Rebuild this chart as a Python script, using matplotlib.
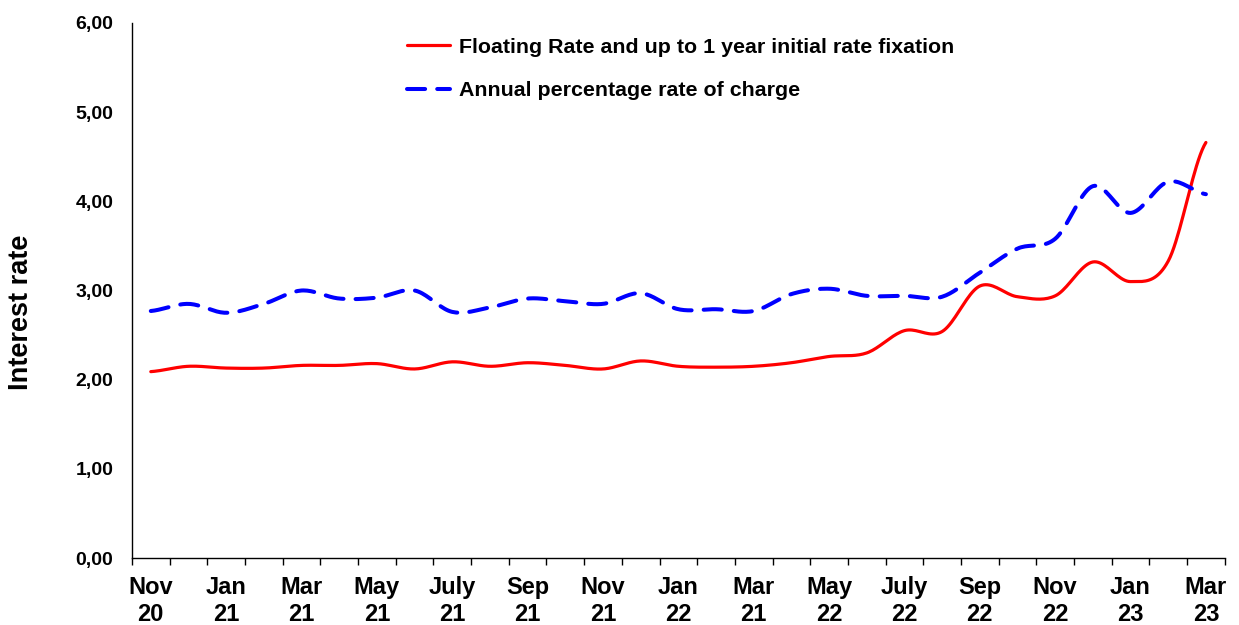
import numpy as np
import matplotlib.pyplot as plt
from matplotlib.ticker import FixedLocator, FuncFormatter

# monthly values, Nov 20 .. Mar 23
months = ['Nov 20', 'Dec 20', 'Jan 21', 'Feb 21', 'Mar 21', 'Apr 21', 'May 21', 'Jun 21',
          'Jul 21', 'Aug 21', 'Sep 21', 'Oct 21', 'Nov 21', 'Dec 21', 'Jan 22', 'Feb 22',
          'Mar 22', 'Apr 22', 'May 22', 'Jun 22', 'Jul 22', 'Aug 22', 'Sep 22', 'Oct 22',
          'Nov 22', 'Dec 22', 'Jan 23', 'Feb 23', 'Mar 23']

floating = [2.09, 2.15, 2.13, 2.13, 2.16, 2.16, 2.18, 2.12, 2.20, 2.15, 2.19, 2.16, 2.12,
            2.21, 2.15, 2.14, 2.15, 2.19, 2.26, 2.30, 2.55, 2.54, 3.05, 2.93, 2.94, 3.32,
            3.10, 3.33, 4.66]
aprc = [2.77, 2.85, 2.75, 2.85, 3.00, 2.91, 2.92, 3.00, 2.76, 2.81, 2.91, 2.88, 2.85,
        2.97, 2.79, 2.79, 2.77, 2.96, 3.02, 2.94, 2.94, 2.93, 3.20, 3.47, 3.58, 4.17,
        3.87, 4.22, 4.08]

# labels every second month (the "Mar 21" under Mar 22 is as in the source chart)
tick_labels = ['Nov\n20', 'Jan\n21', 'Mar\n21', 'May\n21', 'July\n21', 'Sep\n21', 'Nov\n21',
               'Jan\n22', 'Mar\n21', 'May\n22', 'July\n22', 'Sep\n22', 'Nov\n22', 'Jan\n23',
               'Mar\n23']

legend_labels = ['Floating Rate and up to 1 year initial rate fixation',
                 'Annual percentage rate of charge']


def smooth(y, steps=20):
    # Excel style smoothed line (Catmull-Rom through the data points)
    y = np.asarray(y, dtype=float)
    x = np.arange(len(y), dtype=float)
    xp = np.concatenate([[2 * x[0] - x[1]], x, [2 * x[-1] - x[-2]]])
    yp = np.concatenate([[y[0]], y, [y[-1]]])
    xs, ys = [], []
    t = np.linspace(0, 1, steps, endpoint=False)
    for i in range(1, len(xp) - 2):
        for arr, out in ((xp, xs), (yp, ys)):
            p0, p1, p2, p3 = arr[i - 1], arr[i], arr[i + 1], arr[i + 2]
            out.extend(0.5 * (2 * p1 + (-p0 + p2) * t + (2 * p0 - 5 * p1 + 4 * p2 - p3) * t ** 2
                              + (-p0 + 3 * p1 - 3 * p2 + p3) * t ** 3))
    xs.append(x[-1])
    ys.append(y[-1])
    return np.array(xs), np.array(ys)


plt.rcParams['font.family'] = ['Liberation Sans', 'DejaVu Sans']
plt.rcParams['font.weight'] = 'bold'

fig = plt.figure(figsize=(12.39, 6.25), dpi=100)
ax = fig.add_axes([0.1065, 0.1072, 0.882, 0.856])

xs, ys = smooth(floating)
ax.plot(xs, ys, color='#FF0000', lw=2.3, label=legend_labels[0], solid_capstyle='round')
xs, ys = smooth(aprc)
ax.plot(xs, ys, color='#0000FF', lw=2.9, label=legend_labels[1],
        dashes=(4.5, 3.0), dash_capstyle='round')

ax.set_xlim(-0.5, len(months) - 0.5)
ax.set_ylim(0, 6)

ax.xaxis.set_major_locator(FixedLocator(np.arange(0, len(months), 2)))
ax.set_xticklabels(tick_labels, fontsize=17, fontweight='bold', linespacing=1.22)
ax.xaxis.set_minor_locator(FixedLocator(np.arange(-0.5, len(months), 1)))
ax.tick_params(axis='x', which='major', length=0, pad=13)
ax.tick_params(axis='x', which='minor', length=5, width=1, direction='out')

ax.set_yticks(np.arange(0, 7, 1))
ax.yaxis.set_major_formatter(FuncFormatter(lambda v, p: f'{v:.2f}'.replace('.', ',')))
ax.tick_params(axis='y', length=0, pad=13.5, labelsize=14)
for lab in ax.get_yticklabels():
    lab.set_fontweight('bold')

ax.set_ylabel('Interest rate', fontsize=19.5, fontweight='bold')
ax.yaxis.set_label_coords(-0.09, 0.46)

for side in ['top', 'right']:
    ax.spines[side].set_visible(False)
for side in ['left', 'bottom']:
    ax.spines[side].set_linewidth(1)
    ax.spines[side].set_color('black')

leg = ax.legend(loc='upper left', bbox_to_anchor=(0.252, 0.972), frameon=False,
                prop={'size': 15.4, 'weight': 'bold'}, handlelength=2.0,
                handletextpad=0.4, labelspacing=1.14, borderpad=0, borderaxespad=0)

fig.savefig('out.png', dpi=100)
